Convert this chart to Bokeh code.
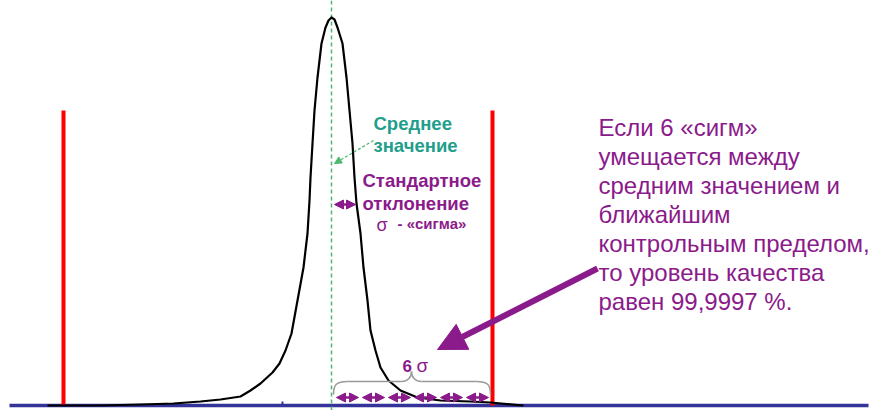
from bokeh.plotting import figure
from bokeh.models import Range1d, Arrow, NormalHead, ColumnDataSource
from bokeh.core.properties import value
from bokeh.embed import file_html
from bokeh.resources import INLINE

# --- data (diagram coordinates, pixel-like units, y grows downward) ---
curve_x = [47, 100, 140, 173, 200, 220, 240, 250, 260, 272, 279, 285, 291, 297, 303, 307, 309, 310,
           312, 314, 317, 321, 325, 328, 331,
           334, 337, 342, 346, 349, 352, 354, 356, 360, 363, 367, 370, 375, 380, 388, 400, 417,
           440, 470, 490, 523]
curve_y = [405, 405, 404, 403, 401, 399, 396, 390, 383, 372, 363, 350, 333, 300, 267, 233, 200, 177,
           143, 110, 77, 43, 27, 20, 17,
           19, 27, 43, 77, 110, 143, 177, 203, 233, 267, 300, 330, 350, 367, 380, 390, 397,
           400, 401, 402, 405]
mean_x = 331
limits_x = [63, 492]
limit_top = 110
baseline_y = 405
sigma_steps = [0, 1, 2, 3, 4, 5, 6]

right_lines = ["Если 6 «сигм»", "умещается между", "средним значением и",
               "ближайшим", "контрольным пределом,", "то уровень качества",
               "равен 99,9997 %."]

PURPLE = "#8b1a8b"
TEAL = "#1f9e8c"
GREEN = "#4fb870"

p = figure(width=872, height=410, x_range=Range1d(0, 872), y_range=Range1d(410, 0),
           output_backend="svg", toolbar_location=None, min_border=0)
p.axis.visible = False
p.grid.visible = False
p.outline_line_color = None
p.background_fill_color = "white"
p.border_fill_color = "white"

# baseline
p.line([9, 868], [baseline_y, baseline_y], line_color="#333399", line_width=3.5)
p.line([282, 282], [baseline_y, 401], line_color="#333399", line_width=2)

# mean dashed line
p.line([mean_x, mean_x], [0, 410], line_color=GREEN, line_width=1.5, line_dash="4 3")

# control limits
for lx in limits_x:
    p.line([lx, lx], [limit_top, baseline_y], line_color="#ff0000", line_width=4)

# distribution curve
p.line(curve_x, curve_y, line_color="black", line_width=2.2, line_join="round")

# labels near mean
font_b = value("Liberation Sans")
p.text([373, 373], [123, 145], text=["Среднее", "значение"], text_color=TEAL,
       text_font=font_b, text_font_style="bold", text_font_size="18.5px", text_baseline="alphabetic")
p.add_layout(Arrow(x_start=373, y_start=140, x_end=334, y_end=163, line_color=GREEN,
                   line_width=1.3, line_dash="3 2",
                   end=NormalHead(size=7, fill_color=GREEN, line_color=GREEN)))
p.text([362, 362], [180, 203], text=["Стандартное", "отклонение"], text_color=PURPLE,
       text_font=font_b, text_font_style="bold", text_font_size="18.5px", text_baseline="alphabetic")
p.text([376], [224], text=["σ"], text_color=PURPLE, text_font=font_b,
       text_font_size="18px", text_baseline="alphabetic")
p.text([397], [223], text=["- «сигма»"], text_color=PURPLE, text_font=font_b,
       text_font_style="bold", text_font_size="15px", text_baseline="alphabetic")

# sigma arrow
sig = 26
p.add_layout(Arrow(x_start=mean_x + 3, y_start=204, x_end=mean_x + 24, y_end=204,
                   line_color=PURPLE, line_width=2.5,
                   start=NormalHead(size=9, fill_color=PURPLE, line_color=PURPLE),
                   end=NormalHead(size=9, fill_color=PURPLE, line_color=PURPLE)))

# six sigma arrows
x0 = 334
arr_src = ColumnDataSource(dict(
    xs=[x0 + sig * k + 2 for k in sigma_steps[:-1]],
    xe=[x0 + sig * (k + 1) - 2 for k in sigma_steps[:-1]],
    ys=[397] * 6, ye=[397] * 6))
p.add_layout(Arrow(x_start="xs", y_start="ys", x_end="xe", y_end="ye", source=arr_src,
                   line_color=PURPLE, line_width=2.5,
                   start=NormalHead(size=9, fill_color=PURPLE, line_color=PURPLE),
                   end=NormalHead(size=9, fill_color=PURPLE, line_color=PURPLE)))

# brace
bx0, bx1, bc = 333, 490, 411
p.bezier(x0=[bx0, bc - 10, bc, bx1 - 14], y0=[394, 381, 371, 381],
         x1=[bx0 + 14, bc, bc + 10, bx1], y1=[381, 371, 381, 394],
         cx0=[bx0, bc - 4, bc, bx1 - 3], cy0=[384, 381, 377, 381],
         cx1=[bx0 + 3, bc, bc + 4, bx1], cy1=[381, 377, 381, 384],
         line_color="#999999", line_width=1.5)
p.line([bx0 + 14, bc - 10], [381, 381], line_color="#999999", line_width=1.5)
p.line([bc + 10, bx1 - 14], [381, 381], line_color="#999999", line_width=1.5)

p.text([402], [365], text=["6"], text_color=PURPLE, text_font=font_b, text_font_style="bold",
       text_font_size="17px", text_baseline="alphabetic")
p.text([416], [365], text=["σ"], text_color=PURPLE, text_font=font_b,
       text_font_size="19px", text_baseline="alphabetic")

# big arrow
p.add_layout(Arrow(x_start=597, y_start=268, x_end=437, y_end=349, line_color=PURPLE,
                   line_width=6, end=NormalHead(size=28, fill_color=PURPLE, line_color=PURPLE)))

# right text block
p.text([598] * len(right_lines), [127 + 29 * i for i in range(len(right_lines))],
       text=right_lines, text_color=PURPLE, text_font=font_b, text_font_size="24px",
       text_baseline="alphabetic")

open("out.html", "w").write(file_html(p, INLINE))
